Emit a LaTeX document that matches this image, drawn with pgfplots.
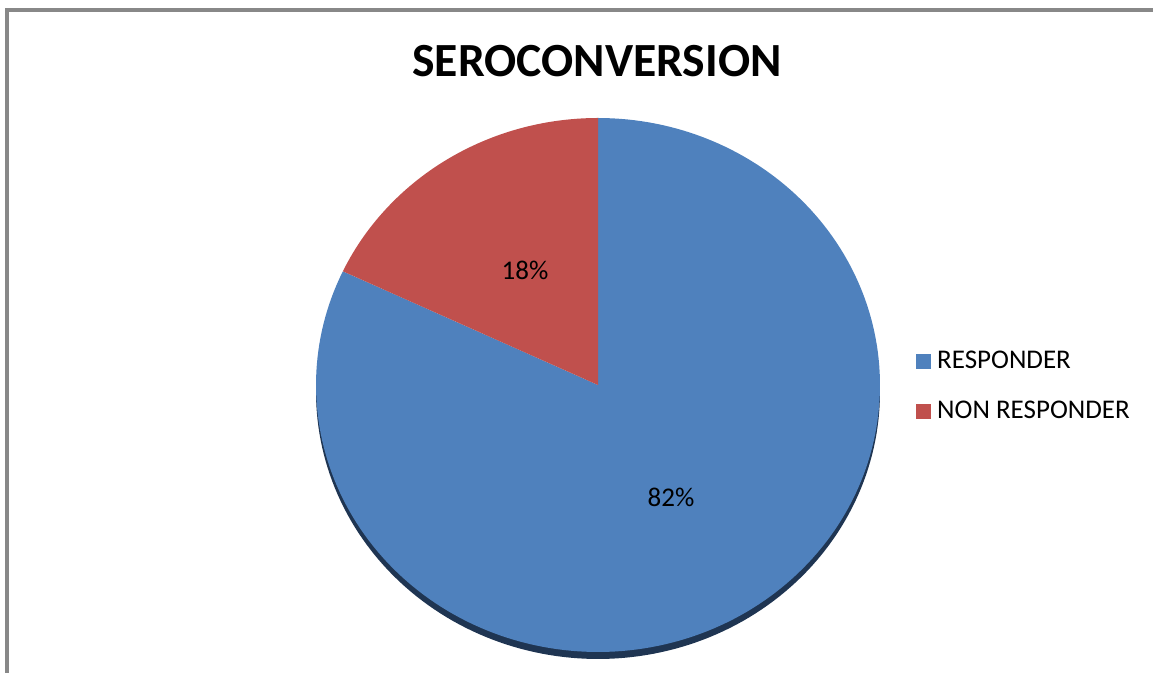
\documentclass[border=0pt]{standalone}
\usepackage{fontspec}
\setmainfont{Carlito}
\usepackage{pgfplots}
\pgfplotsset{compat=1.18}
\definecolor{cblue}{HTML}{4F81BD}
\definecolor{cred}{HTML}{C0504D}
\definecolor{cshadow}{HTML}{1F3552}
\definecolor{cframe}{HTML}{888888}
\begin{document}
\begin{tikzpicture}
% pie values (percent)
\def\pResp{82}
\def\pNon{18}
\pgfmathsetmacro{\aEnd}{90+3.6*\pNon}
\def\cx{598}\def\cy{288}\def\rx{282}\def\ry{267}
\begin{axis}[
  hide axis, scale only axis, clip=false,
  width=576.5pt, height=336.5pt,
  xmin=0, xmax=1153, ymin=0, ymax=673,
  legend style={draw=none, fill=none, at={(axis cs:916,325)}, anchor=north west,
    font=\fontsize{13.5}{16}\selectfont, row sep=11.5pt, inner sep=0pt,
    nodes={inner sep=1.5pt, anchor=west}},
  legend cell align=left,
  legend image code/.code={\fill[#1,draw=none] (0pt,-3.7pt) rectangle (7.4pt,3.7pt);},
]
\draw[cframe, line width=1.6pt] (axis cs:7,0) -- (axis cs:7,663) -- (axis cs:1153,663);
% shadow
\addplot[fill=cshadow, draw=none, domain=180:360, samples=120, variable=\t, forget plot]
  ({\cx+\rx*cos(t)},{\cy-7+\ry*sin(t)}) -- cycle;
% responder slice
\addplot[fill=cblue, draw=none, domain=\aEnd:450, samples=200, variable=\t]
  ({\cx+\rx*cos(t)},{\cy+\ry*sin(t)}) -- (axis cs:\cx,\cy) -- cycle;
\addlegendentry{\hspace{1.5pt}RESPONDER}
% non responder slice
\addplot[fill=cred, draw=none, domain=90:\aEnd, samples=60, variable=\t]
  ({\cx+\rx*cos(t)},{\cy+\ry*sin(t)}) -- (axis cs:\cx,\cy) -- cycle;
\addlegendentry{\hspace{1.5pt}NON RESPONDER}
\node[font=\fontsize{13.5}{16}\selectfont] at (axis cs:525,403) {18\%};
\node[font=\fontsize{13.5}{16}\selectfont] at (axis cs:671,176) {82\%};
\node[font=\bfseries\fontsize{23.8}{28}\selectfont] at (axis cs:597,612) {SEROCONVERSION};
\end{axis}
\pgfresetboundingbox
\path[use as bounding box] (current axis.south west) rectangle (current axis.north east);
\end{tikzpicture}
\end{document}
